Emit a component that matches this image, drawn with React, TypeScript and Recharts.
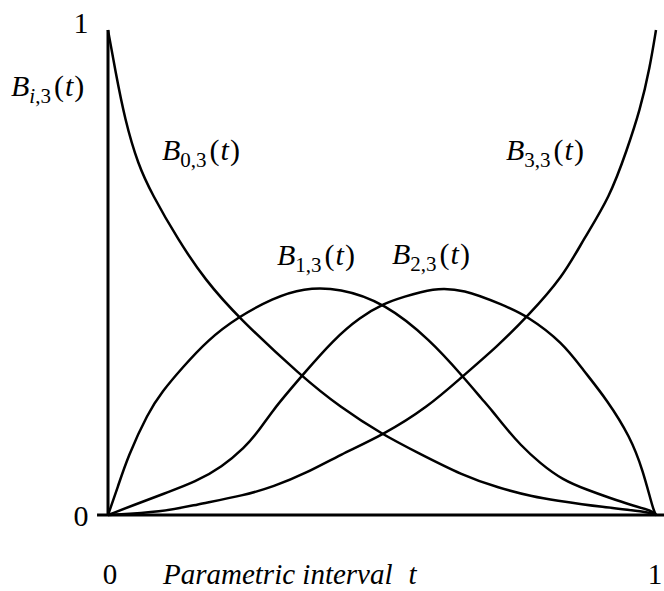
import { LineChart, Line, XAxis, YAxis, ReferenceLine, Customized } from "recharts";

const FONT = '"Liberation Serif", "Times New Roman", Times, serif';

// Bernstein basis curves of degree 3, as [t, B(t)] pairs
const B03: [number, number][] = [
  [0, 1], [0.013, 0.918], [0.031, 0.814], [0.055, 0.722], [0.08, 0.662],
  [0.128, 0.567], [0.177, 0.485], [0.237, 0.408], [0.354, 0.285], [0.423, 0.223],
  [0.502, 0.165], [0.566, 0.128], [0.646, 0.082], [0.712, 0.056], [0.779, 0.037],
  [0.812, 0.031], [0.903, 0.016], [0.989, 0.006], [1, 0],
];

const B13: [number, number][] = [
  [0, 0], [0.018, 0.058], [0.036, 0.12], [0.073, 0.211], [0.099, 0.255],
  [0.135, 0.303], [0.182, 0.361], [0.237, 0.408], [0.301, 0.447], [0.356, 0.468],
  [0.423, 0.468], [0.505, 0.437], [0.588, 0.361], [0.648, 0.285], [0.684, 0.237],
  [0.701, 0.215], [0.724, 0.182], [0.752, 0.145], [0.788, 0.107], [0.83, 0.072],
  [0.874, 0.052], [0.916, 0.035], [0.953, 0.021], [0.995, 0.008], [1, 0],
];

const B23: [number, number][] = [
  [0, 0], [0.062, 0.027], [0.109, 0.047], [0.159, 0.068], [0.208, 0.099],
  [0.25, 0.14], [0.272, 0.169], [0.301, 0.216], [0.332, 0.258], [0.354, 0.287],
  [0.411, 0.361], [0.46, 0.408], [0.505, 0.437], [0.538, 0.449], [0.593, 0.468],
  [0.648, 0.466], [0.721, 0.433], [0.766, 0.41], [0.83, 0.355], [0.867, 0.299],
  [0.911, 0.237], [0.953, 0.161], [0.976, 0.093], [0.995, 0.01], [1, 0],
];

const B33: [number, number][] = [
  [0, 0], [0.099, 0.006], [0.159, 0.021], [0.25, 0.041], [0.301, 0.058],
  [0.363, 0.087], [0.423, 0.124], [0.502, 0.165], [0.584, 0.223], [0.646, 0.285],
  [0.71, 0.347], [0.766, 0.41], [0.83, 0.491], [0.867, 0.567], [0.916, 0.656],
  [0.947, 0.753], [0.971, 0.835], [0.989, 0.924], [1, 1],
];

const T_TICKS = [0, 1];
const Y_TICKS = [0, 1];

const toRows = (pts: [number, number][]) => pts.map(([t, v]) => ({ t, v }));

const series = [
  { key: "b03", data: toRows(B03) },
  { key: "b13", data: toRows(B13) },
  { key: "b23", data: toRows(B23) },
  { key: "b33", data: toRows(B33) },
];

// B with subscript followed by (t)
function BLabel({ x, y, sub }: { x: number; y: number; sub: React.ReactNode }) {
  return (
    <text x={x} y={y} fontFamily={FONT} fontSize={30} fill="#000">
      <tspan fontStyle="italic">B</tspan>
      <tspan fontSize={21} dy={7}>{sub}</tspan>
      <tspan dy={-7} dx={3}>(</tspan>
      <tspan fontStyle="italic" dx={1}>t</tspan>
      <tspan dx={1}>)</tspan>
    </text>
  );
}

function Annotations() {
  return (
    <g>
      <BLabel x={11} y={96} sub={<><tspan fontStyle="italic">i</tspan>,3</>} />
      <BLabel x={162} y={160} sub="0,3" />
      <BLabel x={506} y={160} sub="3,3" />
      <BLabel x={277} y={265} sub="1,3" />
      <BLabel x={392} y={264} sub="2,3" />
      <text x={163} y={584} fontFamily={FONT} fontSize={29} fontStyle="italic" fill="#000">
        Parametric interval<tspan dx={16}>t</tspan>
      </text>
    </g>
  );
}

export default function App() {
  return (
    <div style={{ position: "absolute", left: 0, top: 0, background: "#fff" }}>
      <LineChart
        width={664}
        height={591}
        margin={{ top: 30, right: 8, bottom: 36, left: 68 }}
      >
        <XAxis
          dataKey="t"
          type="number"
          domain={[0, 1]}
          ticks={T_TICKS}
          allowDuplicatedCategory={false}
          height={40}
          axisLine={false}
          tickLine={false}
          tick={(p: any) => (
            <text
              x={p.payload.value === 1 ? p.x - 1 : p.x + 2}
              y={584}
              textAnchor="middle"
              fontFamily={FONT}
              fontSize={29}
              fill="#000"
            >
              {p.payload.value}
            </text>
          )}
        />
        <YAxis
          type="number"
          domain={[0, 1]}
          ticks={Y_TICKS}
          width={40}
          axisLine={{ stroke: "#000", strokeWidth: 3 }}
          tickLine={false}
          tick={(p: any) => (
            <text
              x={81}
              y={p.y + (p.payload.value === 1 ? 3 : 11)}
              textAnchor="middle"
              fontFamily={FONT}
              fontSize={30}
              fill="#000"
            >
              {p.payload.value}
            </text>
          )}
        />
        <ReferenceLine
          segment={[{ x: -0.02, y: 0 }, { x: 1.015, y: 0 }]}
          stroke="#000"
          strokeWidth={3}
          ifOverflow="visible"
        />
        {series.map((s) => (
          <Line
            key={s.key}
            data={s.data}
            dataKey="v"
            type="basis"
            stroke="#000"
            strokeWidth={2.5}
            dot={false}
            activeDot={false}
            isAnimationActive={false}
          />
        ))}
        <Customized component={Annotations} />
      </LineChart>
    </div>
  );
}
